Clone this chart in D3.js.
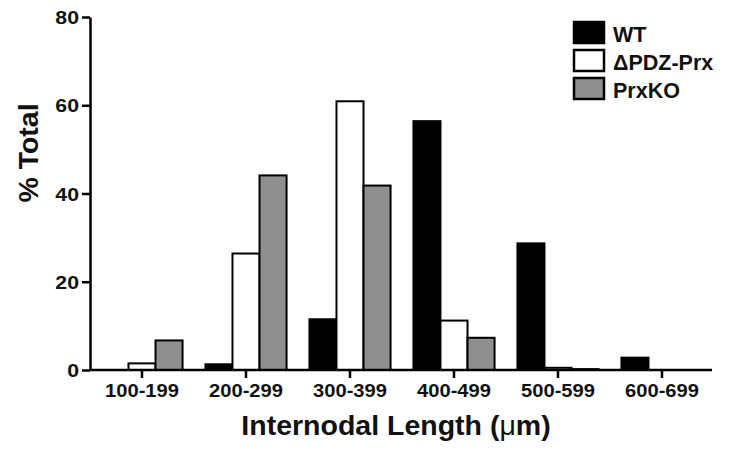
<!DOCTYPE html>
<html>
<head>
<meta charset="utf-8">
<script src="https://cdn.jsdelivr.net/npm/d3@7"></script>
<style>
  body { margin: 0; background: #fff; }
  svg text { font-family: "Liberation Sans", Arial, sans-serif; font-weight: bold; fill: #111; }
</style>
</head>
<body>
<script>
const categories = ['100-199', '200-299', '300-399', '400-499', '500-599', '600-699'];
const seriesNames = ['WT', '\u0394PDZ-Prx', 'PrxKO'];
const wt = [0, 1.3, 11.5, 56.4, 28.7, 2.8];
const dpdz = [1.5, 26.4, 60.9, 11.2, 0.5, 0];
const prxko = [6.7, 44.1, 41.8, 7.3, 0.2, 0];
const yTicks = [0, 20, 40, 60, 80];

const fills = ['#000', '#fff', '#8f8f8f'];
const WIDTH = 739, HEIGHT = 449;
const X0 = 90, X1 = 714, Y0 = 370, Y1 = 17;

const svg = d3.select('body').append('svg')
    .attr('width', WIDTH)
    .attr('height', HEIGHT);

const x = d3.scaleBand()
    .domain(categories)
    .range([X0, X1])
    .paddingInner(0.22)
    .paddingOuter(0.11);

const xs = d3.scaleBand()
    .domain(seriesNames)
    .range([0, x.bandwidth()]);

const y = d3.scaleLinear()
    .domain([0, 80])
    .range([Y0, Y1]);

const rows = categories.map((c, i) => ({cat: c, vals: [wt[i], dpdz[i], prxko[i]]}));

// bars
const groups = svg.selectAll('g.grp')
  .data(rows)
  .enter().append('g')
    .attr('class', 'grp')
    .attr('transform', d => `translate(${x(d.cat)},0)`);

groups.selectAll('rect')
  .data(d => d.vals.map((v, k) => ({k, v})).filter(e => e.v > 0))
  .enter().append('rect')
    .attr('x', e => xs(seriesNames[e.k]))
    .attr('y', e => y(e.v))
    .attr('width', xs.bandwidth())
    .attr('height', e => Y0 - y(e.v))
    .attr('fill', e => fills[e.k])
    .attr('stroke', '#000')
    .attr('stroke-width', 2);

// y axis
const yAxis = svg.append('g')
    .attr('transform', `translate(${X0},0)`)
    .call(d3.axisLeft(y).tickValues(yTicks).tickSize(8).tickSizeOuter(0));
yAxis.select('.domain').attr('stroke-width', 2.5);
yAxis.selectAll('.tick line').attr('stroke-width', 2.5);
yAxis.selectAll('.tick text')
    .attr('x', 0)
    .attr('transform', 'translate(-11,0) scale(1.15,1)')
    .attr('dy', '0.36em')
    .style('font-size', '18.5px');

// x axis
const xAxis = svg.append('g')
    .attr('transform', `translate(0,${Y0})`)
    .call(d3.axisBottom(x).tickSize(8).tickSizeOuter(0).tickPadding(6));
xAxis.select('.domain').attr('stroke-width', 2.5).attr('d', `M${X0 - 1},0H${X1 - 2}`);
xAxis.selectAll('.tick line').attr('stroke-width', 2.5);
xAxis.selectAll('.tick text')
    .attr('transform', 'scale(1.12,1)')
    .style('font-size', '18px');

// axis titles
svg.append('text')
    .attr('transform', 'translate(38,153) rotate(-90)')
    .attr('text-anchor', 'middle')
    .style('font-size', '28.5px')
    .text('% Total');

const xt = svg.append('text')
    .attr('x', 396)
    .attr('y', 435)
    .attr('text-anchor', 'middle')
    .style('font-size', '28.5px');
xt.append('tspan').text('Internodal Length (');
xt.append('tspan').style('font-weight', 'normal').text('\u03bc');
xt.append('tspan').text('m)');

// legend
const legend = svg.append('g').attr('transform', 'translate(574,22)');
seriesNames.forEach((name, i) => {
  const g = legend.append('g').attr('transform', `translate(0,${i * 28})`);
  g.append('rect')
      .attr('width', 30)
      .attr('height', 21)
      .attr('fill', fills[i])
      .attr('stroke', '#000')
      .attr('stroke-width', 2.5);
  g.append('text')
      .attr('x', 39)
      .attr('y', 20)
      .style('font-size', '21.5px')
      .text(name);
});
</script>
</body>
</html>
